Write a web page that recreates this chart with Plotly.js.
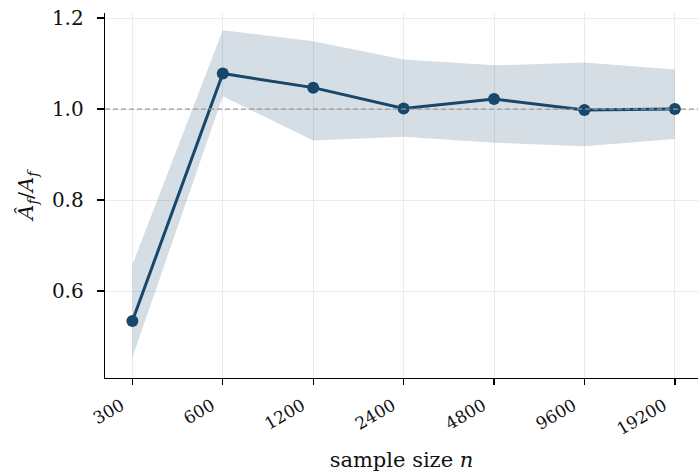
<!DOCTYPE html>
<html><head><meta charset="utf-8">
<script src="https://cdn.plot.ly/plotly-3.0.1.min.js"></script>
<style>html,body{margin:0;padding:0;background:#fff}#chart{width:698px;height:474px}</style>
</head><body><div id="chart"></div>
<script>
const categories = ['300','600','1200','2400','4800','9600','19200'];
const ratio = [0.534, 1.078, 1.047, 1.001, 1.022, 0.998, 1.000];
const upper = [0.658, 1.173, 1.149, 1.109, 1.096, 1.102, 1.087];
const lower = [0.454, 1.028, 0.931, 0.939, 0.926, 0.918, 0.934];
const refValue = 1.0;

const lineColor = '#17476b';
const font = 'DejaVu Serif, serif';

const traces = [
  {x: categories, y: upper, type: 'scatter', mode: 'lines', line: {width: 0, color: 'rgba(0,0,0,0)'}, hoverinfo: 'skip', showlegend: false},
  {x: categories, y: lower, type: 'scatter', mode: 'lines', line: {width: 0, color: 'rgba(0,0,0,0)'}, fill: 'tonexty', fillcolor: 'rgba(23,71,107,0.18)', hoverinfo: 'skip', showlegend: false},
  {x: categories, y: ratio, type: 'scatter', mode: 'lines+markers', line: {color: lineColor, width: 3}, marker: {color: lineColor, size: 12}, showlegend: false}
];

const layout = {
  width: 698, height: 474,
  margin: {l: 105, r: 0, t: 13, b: 96},
  paper_bgcolor: '#fff', plot_bgcolor: '#fff',
  font: {family: font, color: '#111', size: 17},
  xaxis: {
    type: 'category', range: [-0.303, 6.256],
    showgrid: true, gridcolor: '#ebebeb', gridwidth: 1,
    showline: true, linecolor: '#000', linewidth: 1.3,
    ticks: 'outside', ticklen: 6, tickwidth: 1.3, tickcolor: '#000',
    tickangle: -30, tickfont: {family: font, size: 17},
    ticklabelshift: -11, ticklabelstandoff: 4,
    zeroline: false,
    title: {text: 'sample size <i>n</i>', font: {family: font, size: 21}, standoff: 14}
  },
  yaxis: {
    range: [0.409, 1.211],
    tickvals: [0.6, 0.8, 1.0, 1.2], ticktext: ['0.6', '0.8', '1.0', '1.2'],
    showgrid: true, gridcolor: '#ebebeb', gridwidth: 1,
    showline: true, linecolor: '#000', linewidth: 1.3,
    ticks: 'outside', ticklen: 7, tickwidth: 1.3, tickcolor: '#000',
    tickfont: {family: font, size: 20},
    ticklabelstandoff: 9,
    zeroline: false,
    title: {text: '<i>Â</i><sub><i>f</i></sub>/<i>A</i><sub><i>f</i></sub>', font: {family: font, size: 21}, standoff: 12}
  },
  shapes: [{type: 'line', xref: 'paper', yref: 'y', x0: 0, x1: 1, y0: refValue, y1: refValue, line: {color: '#999', width: 1.3, dash: '5px,3px'}, layer: 'above'}]
};
Plotly.newPlot('chart', traces, layout, {displayModeBar: false, staticPlot: true});
</script></body></html>
